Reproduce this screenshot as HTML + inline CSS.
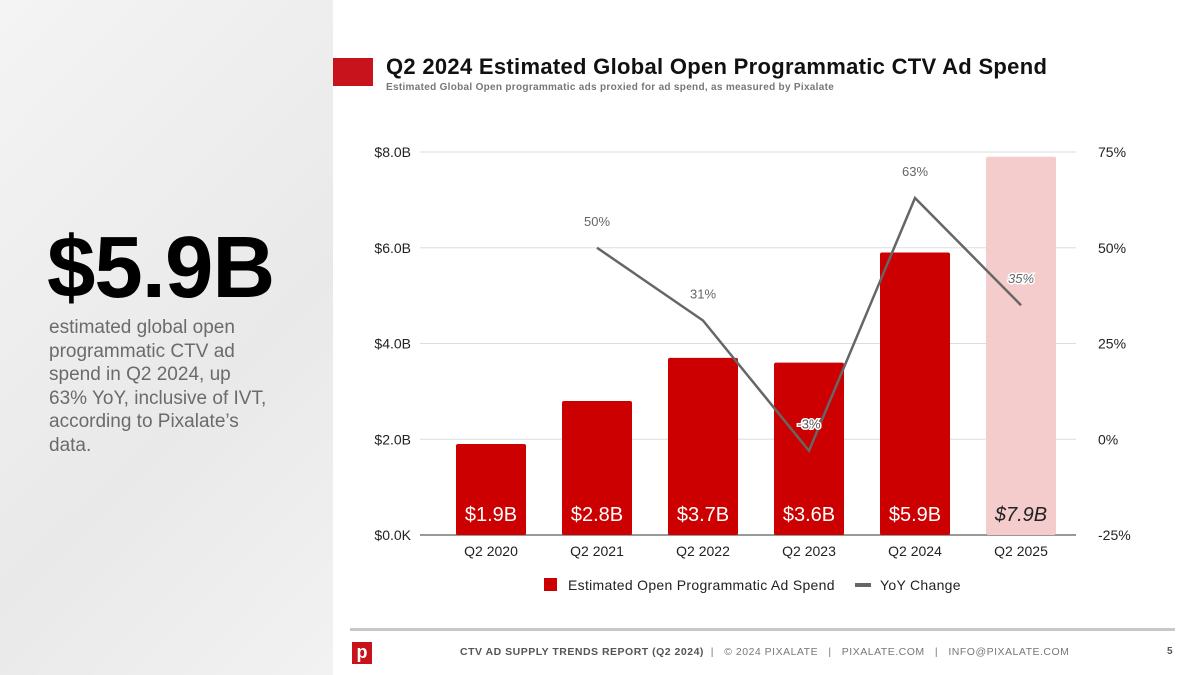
<!DOCTYPE html>
<html><head><meta charset="utf-8"><style>
body{margin:0;width:1200px;height:675px;overflow:hidden;background:#fff;font-family:"Liberation Sans",sans-serif;position:relative}
.left{position:absolute;left:0;top:0;width:333px;height:675px;background:linear-gradient(135deg,#f4f4f4,#e9e9e9 60%,#f2f2f2)}
</style></head><body>
<div class="left">
<div style="position:absolute;left:47px;top:218px;font-size:87px;font-weight:bold;color:#000;letter-spacing:-1px">$5.9B</div>
<div style="position:absolute;left:49px;top:316px;width:221px;font-size:19px;line-height:23.5px;color:#6b6b6b">estimated global open programmatic CTV ad spend in Q2 2024, up 63% YoY, inclusive of IVT, according to Pixalate’s data.</div>
</div>
<div style="position:absolute;left:333px;top:58px;width:40px;height:28px;background:#c8121c"></div>
<div style="position:absolute;left:386px;top:54px;font-size:22px;font-weight:bold;color:#111;letter-spacing:0.3px">Q2 2024 Estimated Global Open Programmatic CTV Ad Spend</div>
<div style="position:absolute;left:386px;top:82px;font-size:10px;font-weight:bold;color:#777;letter-spacing:0.3px">Estimated Global Open programmatic ads proxied for ad spend, as measured by Pixalate</div>
<svg id="chart" width="1200" height="675" style="position:absolute;left:0;top:0"></svg>
<div style="position:absolute;left:350px;top:628px;width:825px;height:3px;background:#c8c8c8"></div>
<div style="position:absolute;left:352px;top:642px;width:20px;height:22px;background:#c8121c;color:#fff;font-weight:bold;font-size:18px;line-height:20px;text-align:center">p</div>
<div style="position:absolute;left:460px;top:646px;font-size:10.5px;color:#777;letter-spacing:0.5px;white-space:nowrap"><b style="color:#555">CTV AD SUPPLY TRENDS REPORT (Q2 2024)</b> &nbsp;| &nbsp;&nbsp;© 2024 PIXALATE &nbsp;&nbsp;| &nbsp;&nbsp;PIXALATE.COM &nbsp;&nbsp;| &nbsp;&nbsp;INFO@PIXALATE.COM</div>
<div style="position:absolute;left:1167px;top:646px;font-size:10px;font-weight:bold;color:#555">5</div>
<script>
const categories=["Q2 2020","Q2 2021","Q2 2022","Q2 2023","Q2 2024","Q2 2025"];
const spend=[1.9,2.8,3.7,3.6,5.9,7.9];
const spendLabels=["$1.9B","$2.8B","$3.7B","$3.6B","$5.9B","$7.9B"];
const yoy=[null,50,31,-3,63,35];
const leftTicks=[0,2,4,6,8];
const leftTickLabels=["$0.0K","$2.0B","$4.0B","$6.0B","$8.0B"];
const rightTicks=[-25,0,25,50,75];
const NS="http://www.w3.org/2000/svg";
const svg=document.getElementById('chart');
const yL=v=>535-v*(383/8);
const yR=v=>535-(v+25)*(383/100);
const xC=i=>491+i*106;
function mk(t,a,txt){const e=document.createElementNS(NS,t);for(const k in a)e.setAttribute(k,a[k]);if(txt!=null)e.textContent=txt;svg.appendChild(e);return e;}
leftTicks.forEach((v,i)=>{
 const g=mk('line',{x1:420,x2:1076,y1:yL(v),y2:yL(v),stroke:i==0?'#333':'#ddd','stroke-width':1});
 
 const t=mk('text',{x:411,y:yL(v)+5,'text-anchor':'end','font-size':14,fill:'#222'},leftTickLabels[i]);
 
});
rightTicks.forEach(v=>{
 const t=mk('text',{x:1098,y:yR(v)+5,'font-size':14,fill:'#222'},v+'%');
 
});
spend.forEach((v,i)=>{
 const last=i==spend.length-1;
 const r=mk('rect',{x:xC(i)-35,y:yL(v),width:70,height:yL(0)-yL(v),fill:last?'#f4cccc':'#cc0000',rx:2});
 
 const t=mk('text',{x:xC(i),y:521,'text-anchor':'middle','font-size':20,fill:last?'#222':'#fff','font-style':last?'italic':'normal'},spendLabels[i]);
 
 const c=mk('text',{x:xC(i),y:556,'text-anchor':'middle','font-size':14,fill:'#222'},categories[i]);
 
});
let d='';yoy.forEach((v,i)=>{if(v==null)return;d+=(d?'L':'M')+xC(i)+' '+yR(v);});
const p=mk('path',{d:d,fill:'none',stroke:'#666','stroke-width':2.5});

yoy.forEach((v,i)=>{if(v==null)return;
 const t=mk('text',{x:xC(i),y:yR(v)-22,'text-anchor':'middle','font-size':13,fill:'#666'},v+'%');
 if(i==3){t.setAttribute('fill','#555');t.setAttribute('stroke','#fff');t.setAttribute('stroke-width','3');t.setAttribute('paint-order','stroke');}
 if(i==5){t.setAttribute('font-style','italic');t.setAttribute('stroke','#fff');t.setAttribute('stroke-width','3');t.setAttribute('paint-order','stroke');}
 
});
let lg=mk('rect',{x:544,y:578,width:13,height:13,fill:'#cc0000'});

lg=mk('text',{x:568,y:590,'font-size':14,fill:'#222','letter-spacing':'0.3'},'Estimated Open Programmatic Ad Spend');

lg=mk('line',{x1:855,x2:871,y1:585,y2:585,stroke:'#666','stroke-width':4});

lg=mk('text',{x:880,y:590,'font-size':14,fill:'#222','letter-spacing':'0.3'},'YoY Change');

</script>
</body></html>
